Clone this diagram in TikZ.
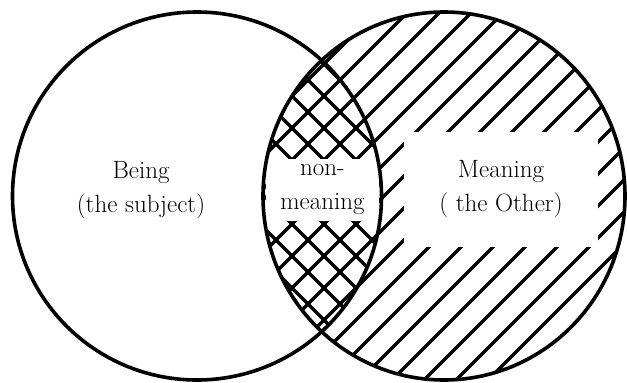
\documentclass[tikz,border=0pt]{standalone}
\usetikzlibrary{positioning}
\begin{document}
\begin{tikzpicture}[x=1pt, y=-1pt,
  ring/.style={line width=3.6pt},
  hatch/.style={line width=3.2pt},
  gap/.style={fill=white, inner sep=0pt, align=center, font=\fontsize{25}{34}\selectfont},
  lbl/.style={align=center, font=\fontsize{25}{34}\selectfont}]
\useasboundingbox (0,0) rectangle (627,383);
% hatching: right set, then crossed in the overlap
\begin{scope}
  \clip (444,196) ellipse [x radius=181pt, y radius=184pt];
  \foreach \c in {388,420,...,900} \draw[hatch] (\c,0) -- (\c-400,400);
  \clip (197,196) ellipse [x radius=184.5pt, y radius=184pt];
  \foreach \d in {-92,-60,...,356} \draw[hatch] (\d,0) -- (\d+400,400);
\end{scope}
\node[gap, minimum width=113pt, minimum height=62pt] (nonmeaning) at (322.5,190) {non-\\meaning};
\node[gap, minimum width=194pt, minimum height=115pt] (meaning) at (501,189.5) {Meaning\\( the Other)};
\draw[ring] (197,196) ellipse [x radius=184.5pt, y radius=184pt];
\draw[ring] (444,196) ellipse [x radius=181pt, y radius=184pt];
\node[lbl] (being) at (141,190) {Being\\(the subject)};
\end{tikzpicture}
\end{document}
